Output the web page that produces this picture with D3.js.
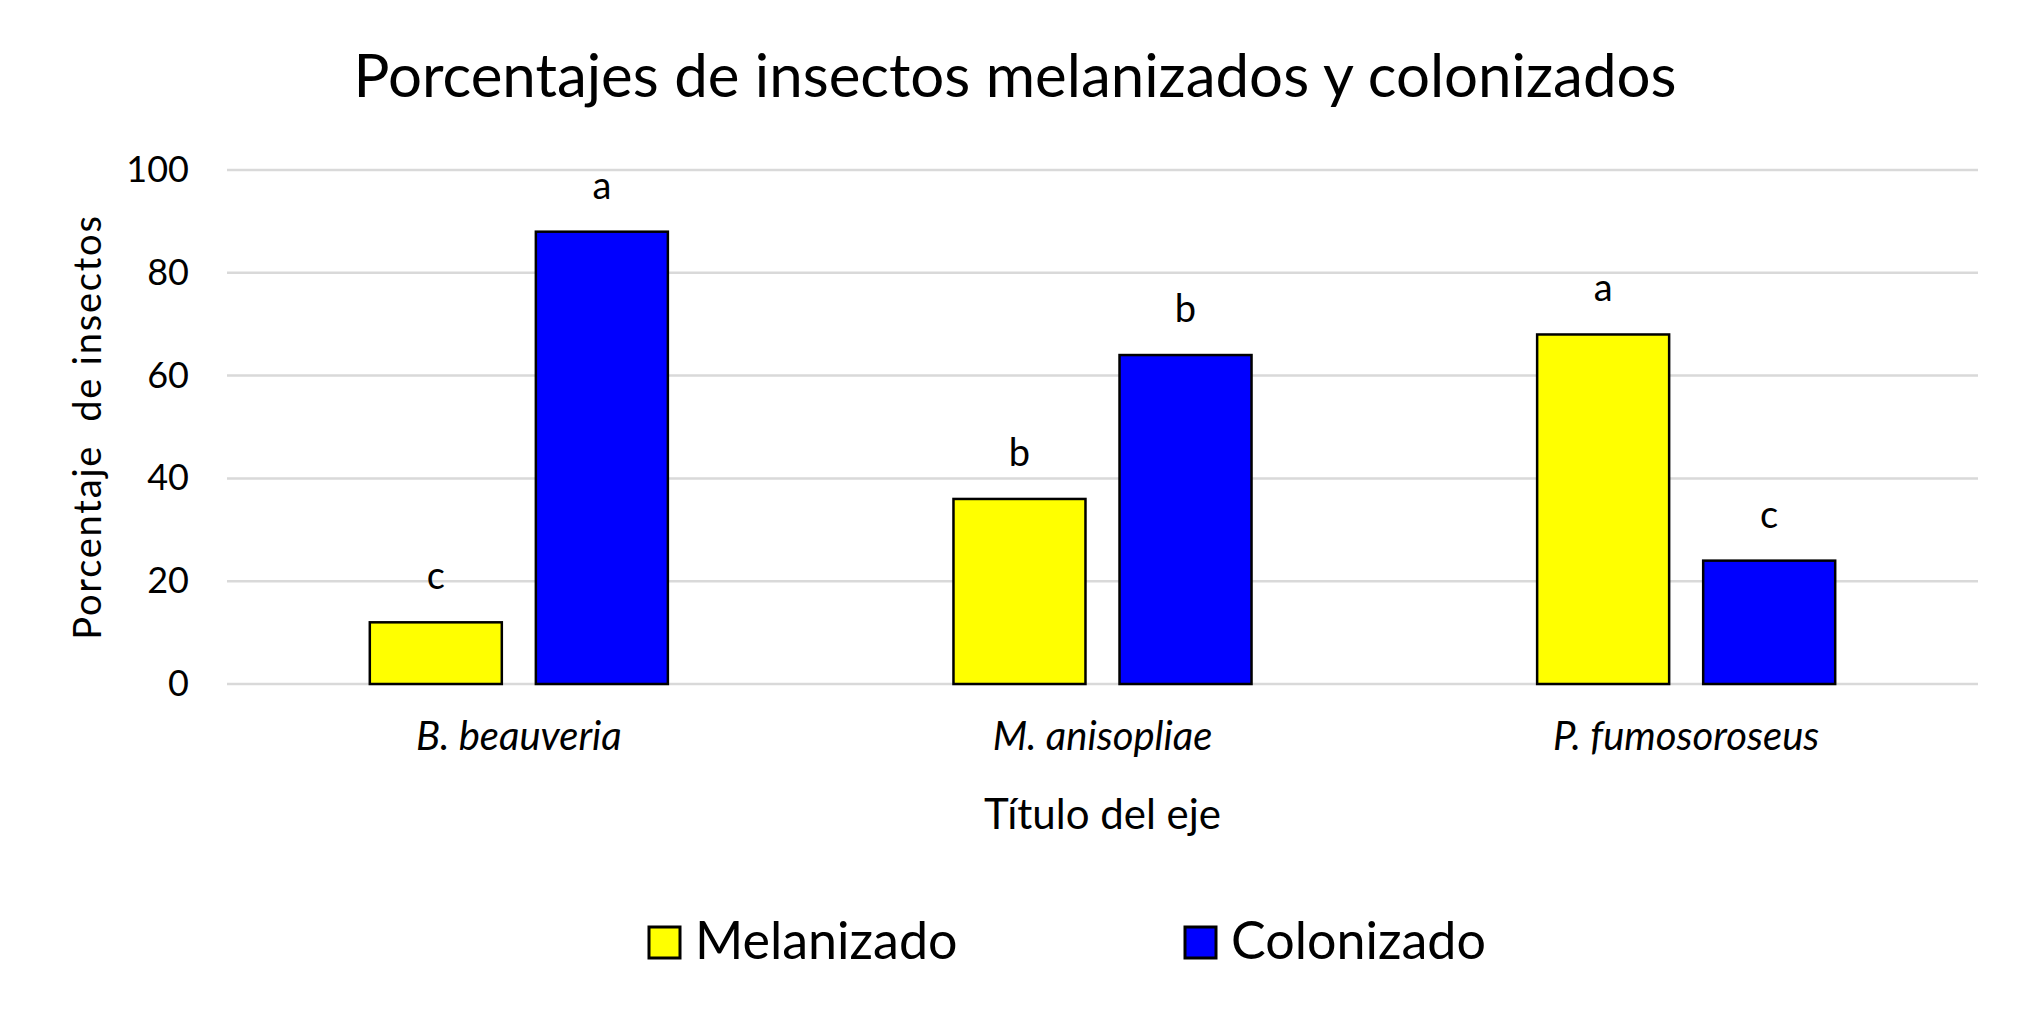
<!DOCTYPE html>
<html>
<head>
    <title>Porcentajes de insectos</title>
    <script src="https://d3js.org/d3.v7.min.js"></script>
    <style>
        body {
            margin: 0;
            background-color: white;
            font-family: Lato, "Open Sans", sans-serif;
        }
        .grid line {
            stroke: #d9d9d9;
            stroke-width: 2.5px;
        }
        .bar {
            stroke: #000;
            stroke-width: 2.5px;
        }
        text {
            fill: #000;
        }
    </style>
</head>
<body>
    <div id="chart"></div>
    <script>
        // Data
        const categories = ["B. beauveria", "M. anisopliae", "P. fumosoroseus"];
        const seriesNames = ["Melanizado", "Colonizado"];
        const seriesColors = ["#ffff00", "#0000ff"];
        const melanizado = [12, 36, 68];
        const colonizado = [88, 64, 24];
        const melanizadoLetters = ["c", "b", "a"];
        const colonizadoLetters = ["a", "b", "c"];
        const yTicks = [0, 20, 40, 60, 80, 100];

        const width = 2030;
        const height = 1009;
        const margin = {top: 170, right: 52, bottom: 325, left: 227};

        const svg = d3.select("#chart")
            .append("svg")
            .attr("width", width)
            .attr("height", height);

        const rows = categories.map((c, i) => ({
            category: c,
            values: [
                {series: 0, value: melanizado[i], letter: melanizadoLetters[i]},
                {series: 1, value: colonizado[i], letter: colonizadoLetters[i]}
            ]
        }));

        const x = d3.scaleBand()
            .domain(categories)
            .range([margin.left, width - margin.right]);

        const xInner = d3.scaleBand()
            .domain([0, 1])
            .range([0, x.bandwidth()])
            .paddingInner(0.205)
            .paddingOuter(0.86);

        const y = d3.scaleLinear()
            .domain([0, 100])
            .range([height - margin.bottom, margin.top]);

        // gridlines
        svg.append("g")
            .attr("class", "grid")
            .selectAll("line")
            .data(yTicks)
            .enter()
            .append("line")
            .attr("x1", margin.left)
            .attr("x2", width - margin.right)
            .attr("y1", d => y(d))
            .attr("y2", d => y(d));

        // y axis labels
        const yAxis = svg.append("g")
            .attr("transform", `translate(${margin.left},0)`)
            .call(d3.axisLeft(y).tickValues(yTicks).tickSize(0).tickPadding(38));
        yAxis.select(".domain").remove();
        yAxis.selectAll("text")
            .style("font-family", "Lato, sans-serif")
            .style("font-size", "36px")
            .attr("fill", "#000");

        // bars
        const groups = svg.append("g")
            .selectAll("g")
            .data(rows)
            .enter()
            .append("g")
            .attr("transform", d => `translate(${x(d.category)},0)`);

        groups.selectAll("rect")
            .data(d => d.values)
            .enter()
            .append("rect")
            .attr("class", "bar")
            .attr("x", d => xInner(d.series))
            .attr("width", xInner.bandwidth())
            .attr("y", d => y(d.value))
            .attr("height", d => y(0) - y(d.value))
            .attr("fill", d => seriesColors[d.series]);

        groups.selectAll("text")
            .data(d => d.values)
            .enter()
            .append("text")
            .attr("x", d => xInner(d.series) + xInner.bandwidth() / 2)
            .attr("y", d => y(d.value) - 33)
            .attr("text-anchor", "middle")
            .style("font-size", "38px")
            .text(d => d.letter);

        // category labels
        const xAxis = svg.append("g")
            .attr("transform", `translate(0,${y(0)})`)
            .call(d3.axisBottom(x).tickSize(0).tickPadding(38));
        xAxis.select(".domain").remove();
        xAxis.selectAll("text")
            .style("font-family", "Lato, sans-serif")
            .style("font-size", "40px")
            .style("font-style", "italic")
            .attr("fill", "#000");

        // axis titles
        svg.append("text")
            .attr("x", (margin.left + width - margin.right) / 2)
            .attr("y", 829)
            .attr("text-anchor", "middle")
            .style("font-size", "42px")
            .text("Título del eje");

        svg.append("text")
            .attr("transform", `translate(101,${(y(0) + y(100)) / 2}) rotate(-90)`)
            .attr("text-anchor", "middle")
            .style("font-size", "38px")
            .style("letter-spacing", "1.8px")
            .attr("xml:space", "preserve")
            .style("white-space", "pre")
            .text("Porcentaje  de insectos");

        // chart title
        svg.append("text")
            .attr("x", 1015)
            .attr("y", 97)
            .attr("text-anchor", "middle")
            .style("font-size", "60px")
            .text("Porcentajes de insectos melanizados y colonizados");

        // legend
        const legendX = [649, 1185];
        const legend = svg.append("g")
            .selectAll("g")
            .data(seriesNames)
            .enter()
            .append("g")
            .attr("transform", (d, i) => `translate(${legendX[i]},927)`);

        legend.append("rect")
            .attr("width", 31)
            .attr("height", 31)
            .attr("fill", (d, i) => seriesColors[i])
            .attr("stroke", "#000")
            .attr("stroke-width", 3);

        legend.append("text")
            .attr("x", 46)
            .attr("y", 32)
            .style("font-size", "52px")
            .text(d => d);
    </script>
</body>
</html>
